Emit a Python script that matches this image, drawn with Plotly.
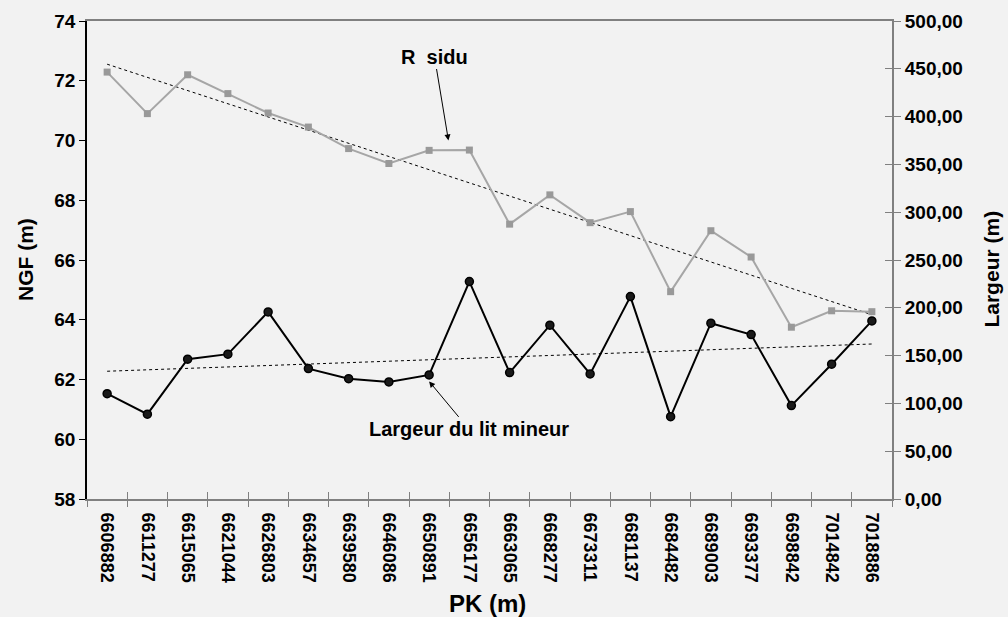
import numpy as np
import plotly.graph_objects as go

# PK stations along the reach
pk_labels = [
    "6606882", "6611277", "6615065", "6621044", "6626803",
    "6634657", "6639580", "6646086", "6650891", "6656177",
    "6663065", "6668277", "6673311", "6681137", "6684482",
    "6689003", "6693377", "6698842", "7014842", "7018886",
]

# Résidu (NGF, m) - left axis
residu = [72.29, 70.90, 72.20, 71.57, 70.92, 70.45, 69.73, 69.23, 69.67, 69.68,
          67.20, 68.18, 67.25, 67.62, 64.94, 66.98, 66.10, 63.75, 64.30, 64.27]

# Largeur du lit mineur (m) - right axis
largeur = [110.2, 88.7, 146.2, 151.5, 195.7, 136.4, 125.9, 122.5, 129.8, 227.4,
           132.2, 181.8, 130.8, 211.7, 86.1, 183.9, 172.0, 97.7, 141.0, 186.3]

left_ticks = list(range(58, 75, 2))
right_ticks = list(range(0, 501, 50))
right_tick_text = [f"{v},00" for v in right_ticks]

FONT = "Liberation Sans, Arial, sans-serif"
BG = "#f2f2f2"
GREY_LINE = "#a6a6a6"
GREY_MARK = "#999999"

idx = np.arange(len(pk_labels))
res_fit = np.polyval(np.polyfit(idx, residu, 1), idx)
larg_fit = np.polyval(np.polyfit(idx, largeur, 1), idx)

fig = go.Figure()

# linear trends (dotted)
fig.add_trace(go.Scatter(x=pk_labels, y=res_fit, mode="lines", yaxis="y",
                         line=dict(color="#000000", width=1, dash="dot"),
                         hoverinfo="skip", showlegend=False))
fig.add_trace(go.Scatter(x=pk_labels, y=larg_fit, mode="lines", yaxis="y2",
                         line=dict(color="#000000", width=1, dash="dot"),
                         hoverinfo="skip", showlegend=False))

# Résidu series
fig.add_trace(go.Scatter(x=pk_labels, y=residu, mode="lines+markers", yaxis="y",
                         name="Résidu",
                         line=dict(color=GREY_LINE, width=2),
                         marker=dict(symbol="square", size=7, color=GREY_MARK),
                         showlegend=False))

# Largeur du lit mineur series
fig.add_trace(go.Scatter(x=pk_labels, y=largeur, mode="lines+markers", yaxis="y2",
                         name="Largeur du lit mineur",
                         line=dict(color="#000000", width=2),
                         marker=dict(symbol="circle", size=8, color="#1a1a1a",
                                     line=dict(color="#000000", width=1.5)),
                         showlegend=False))

# helper trace carrying the inner half of the crossing tick marks
fig.add_trace(go.Scatter(x=[0], y=[0], xaxis="x2", yaxis="y3", mode="none",
                         hoverinfo="skip", showlegend=False))

tick_font = dict(family=FONT, size=19, color="#000000", weight="bold")

fig.update_layout(
    width=1008, height=617,
    paper_bgcolor=BG, plot_bgcolor=BG,
    margin=dict(l=87, r=116, t=21, b=118),
    showlegend=False,
    xaxis=dict(
        type="category", range=[-0.5, 19.5],
        tickson="boundaries", ticks="outside", ticklen=6, tickcolor="#808080",
        tickangle=90, ticklabelstandoff=8,
        tickfont=dict(family=FONT, size=18, color="#000000", weight="bold"),
        showline=True, linecolor="#808080", linewidth=2, mirror=True,
        showgrid=False, zeroline=False,
    ),
    xaxis2=dict(
        overlaying="x", anchor="y", range=[0, 20], tick0=0, dtick=1,
        ticks="inside", ticklen=7, tickcolor="#808080",
        showticklabels=False, showgrid=False, zeroline=False, showline=False,
    ),
    yaxis=dict(
        range=[58, 74], tickvals=left_ticks, ticks="outside", ticklen=6,
        tickcolor="#000000", tickfont=tick_font,
        showline=True, linecolor="#000000", linewidth=1.5,
        showgrid=False, zeroline=False,
    ),
    yaxis2=dict(
        overlaying="y", side="right", anchor="x", range=[0, 500],
        tickvals=right_ticks, ticktext=right_tick_text,
        ticks="outside", ticklen=7, tickcolor="#808080", tickfont=tick_font,
        showline=True, linecolor="#808080", linewidth=2,
        showgrid=False, zeroline=False,
    ),
    yaxis3=dict(
        overlaying="y", side="right", anchor="x", range=[0, 500],
        tickvals=right_ticks, ticks="inside", ticklen=7, tickcolor="#808080",
        showticklabels=False, showline=False, showgrid=False, zeroline=False,
    ),
)

title_font = dict(family=FONT, size=21, color="#000000", weight="bold")
ann_font = dict(family=FONT, size=20, color="#000000", weight="bold")

fig.add_annotation(text="NGF (m)", xref="paper", yref="paper", x=0, y=0.5,
                   xanchor="center", xshift=-62, textangle=-90, showarrow=False,
                   font=title_font)
fig.add_annotation(text="Largeur (m)", xref="paper", yref="paper", x=1, y=0.48,
                   xanchor="center", xshift=100, textangle=-90, showarrow=False,
                   font=title_font)
fig.add_annotation(text="PK (m)", xref="paper", yref="paper", x=0.497, y=0,
                   yanchor="middle", yshift=-104, showarrow=False,
                   font=dict(family=FONT, size=24, color="#000000", weight="bold"))

fig.add_annotation(text="R  sidu", x=8.48, y=70.0, xref="x", yref="y",
                   ax=-14, ay=-84, showarrow=True, arrowhead=2, arrowsize=1.2,
                   arrowwidth=1, arrowcolor="#000000", font=ann_font)
fig.add_annotation(text="Largeur du lit mineur", x=8.0, y=123, xref="x", yref="y2",
                   ax=40, ay=48, showarrow=True, arrowhead=2, arrowsize=1.2,
                   arrowwidth=1, arrowcolor="#000000", font=ann_font)

fig.write_html("out.html")
